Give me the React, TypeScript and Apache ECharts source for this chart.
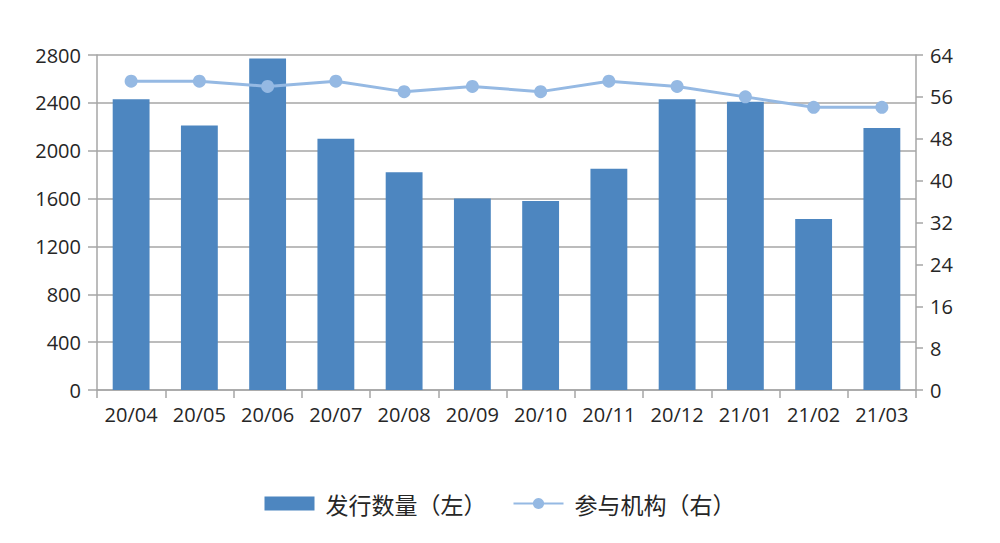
import React, { useEffect, useRef } from "react";
import * as echarts from "echarts";

const categories = ["20/04", "20/05", "20/06", "20/07", "20/08", "20/09", "20/10", "20/11", "20/12", "21/01", "21/02", "21/03"];
const issueCount = [2430, 2210, 2770, 2100, 1820, 1600, 1580, 1850, 2430, 2410, 1430, 2190];
const institutions = [59, 59, 58, 59, 57, 58, 57, 59, 58, 56, 54, 54];
const seriesNames = ["发行数量（左）", "参与机构（右）"];

const FONT = "'Open Sans', 'Noto Sans CJK SC', sans-serif";
const TEXT = "#262626";
const GRID = "#a6a6a6";

export default function App() {
  const ref = useRef<HTMLDivElement>(null);
  useEffect(() => {
    if (!ref.current) return;
    const chart = echarts.init(ref.current, undefined, { renderer: "svg" });
    chart.setOption({
      animation: false,
      backgroundColor: "#ffffff",
      textStyle: { fontFamily: FONT },
      grid: { left: 97, right: 84, top: 55, bottom: 153 },
      legend: {
        left: "center",
        top: 487,
        itemWidth: 50,
        itemHeight: 14,
        itemGap: 26,
        textStyle: { fontSize: 23, color: TEXT, fontFamily: "'Noto Sans CJK SC', sans-serif", padding: [0, 0, 0, 6] },
        data: [
          { name: seriesNames[0], icon: "rect" },
          { name: seriesNames[1] },
        ],
      },
      xAxis: {
        type: "category",
        data: categories,
        axisLine: { show: true, lineStyle: { color: GRID, width: 1.5 } },
        axisTick: { show: true, length: 8, lineStyle: { color: GRID, width: 1.5 } },
        axisLabel: { fontSize: 20, color: TEXT, margin: 14, fontFamily: FONT, interval: 0 },
      },
      yAxis: [
        {
          type: "value",
          min: 0,
          max: 2800,
          interval: 400,
          axisLine: { show: true, lineStyle: { color: GRID, width: 1.5 } },
          axisTick: { show: true, length: 9, lineStyle: { color: GRID, width: 1.5 } },
          axisLabel: { fontSize: 20, color: TEXT, margin: 16, fontFamily: FONT, formatter: (v: number) => String(v) },
          splitLine: { show: true, lineStyle: { color: GRID, width: 1.5 } },
        },
        {
          type: "value",
          min: 0,
          max: 64,
          interval: 8,
          position: "right",
          axisLine: { show: true, lineStyle: { color: GRID, width: 1.5 } },
          axisTick: { show: true, length: 7, lineStyle: { color: GRID, width: 1.5 } },
          axisLabel: { fontSize: 20, color: TEXT, margin: 14, fontFamily: FONT, formatter: (v: number) => String(v) },
          splitLine: { show: false },
        },
      ],
      series: [
        {
          name: seriesNames[0],
          type: "bar",
          data: issueCount,
          barWidth: "54%",
          itemStyle: { color: "#4d86c0" },
        },
        {
          name: seriesNames[1],
          type: "line",
          yAxisIndex: 1,
          data: institutions,
          symbol: "circle",
          symbolSize: 13,
          lineStyle: { color: "#95b9e3", width: 3 },
          itemStyle: { color: "#95b9e3" },
        },
      ],
    });
    return () => chart.dispose();
  }, []);
  return <div ref={ref} style={{ width: 1000, height: 543, position: "absolute", left: 0, top: 0 }} />;
}
